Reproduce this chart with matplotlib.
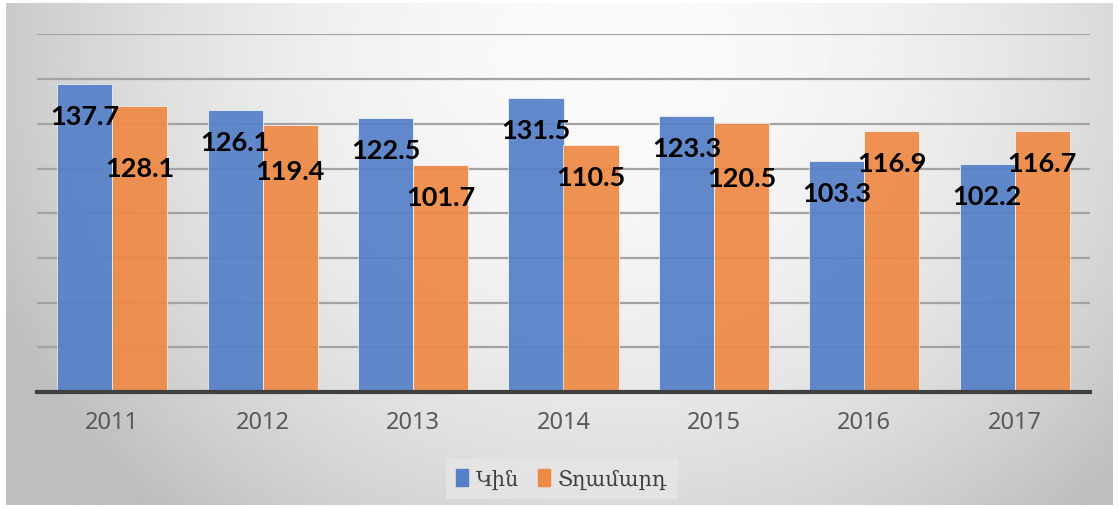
import numpy as np
import matplotlib.pyplot as plt
from matplotlib.patches import Rectangle

years = ['2011', '2012', '2013', '2014', '2015', '2016', '2017']
women = [137.7, 126.1, 122.5, 131.5, 123.3, 103.3, 102.2]
men = [128.1, 119.4, 101.7, 110.5, 120.5, 116.9, 116.7]
series_names = ['Կին', 'Տղամարդ']

blue = '#5580C8'
orange = '#EE8A46'

W, H = 1119, 510
fig = plt.figure(figsize=(W / 100, H / 100), dpi=100)
fig.patch.set_facecolor('white')

# gradient panel behind the chart
bg = fig.add_axes([6 / W, 1 - 506 / H, 1107 / W, 502 / H])
gx, gy = np.meshgrid(np.linspace(0, 1, 400), np.linspace(0, 1, 200))
d2 = ((gx - 0.55) / 0.55) ** 2 + ((gy - 0.1) / 1.1) ** 2
shade = np.clip(250 - 48 * d2, 190, 250) / 255
bg.imshow(shade, cmap='gray', vmin=0, vmax=1, aspect='auto', extent=[0, 1, 1, 0])
bg.axis('off')

ax = fig.add_axes([37 / W, 117 / H, 1053 / W, 357.6 / H])
ax.set_facecolor('none')

x = np.arange(len(years))
w = 0.366
ax.bar(x - w / 2, women, w, color=blue, alpha=0.93, edgecolor='white', linewidth=0.5, zorder=3)
ax.bar(x + w / 2, men, w, color=orange, alpha=0.93, edgecolor='white', linewidth=0.5, zorder=3)

ax.set_xlim(-0.5, len(years) - 0.5)
ax.set_ylim(0, 160)
ax.set_yticks(np.arange(20, 161, 20))
ax.yaxis.grid(True, color='#a3a3a3', linewidth=1.6, zorder=0)
ax.tick_params(axis='y', left=False, labelleft=False)
ax.set_xticks(x)
ax.set_xticklabels(years, fontsize=17, color='#595959', family='Noto Sans')
ax.tick_params(axis='x', length=0, pad=13)
for s in ['top', 'right', 'left']:
    ax.spines[s].set_visible(False)
ax.spines['bottom'].set_color('#404040')
ax.spines['bottom'].set_linewidth(3)
ax.spines['bottom'].set_zorder(4)

# data labels sit inside the bar end; a few orange ones were pushed lower
extra = {0: -22, 1: -10, 4: -17}
lab = dict(ha='center', va='center', fontsize=19.5, fontweight='bold',
           family='Lato', color='black', zorder=5)
for i, v in enumerate(women):
    ax.annotate(f'{v:.1f}', (x[i] - w / 2, v), xytext=(0, -23),
                textcoords='offset points', **lab)
for i, v in enumerate(men):
    ax.annotate(f'{v:.1f}', (x[i] + w / 2, v), xytext=(0, -23 + extra.get(i, 0)),
                textcoords='offset points', **lab)

handles = [Rectangle((0, 0), 1, 1, color=blue), Rectangle((0, 0), 1, 1, color=orange)]
leg = fig.legend(handles, series_names, loc='center', bbox_to_anchor=(562 / W, 1 - 480 / H),
                 ncol=2, frameon=True, fancybox=False, handlelength=0.55, handleheight=0.9,
                 handletextpad=0.4, columnspacing=0.9, borderpad=0.5,
                 prop={'family': ['DejaVu Serif', 'DejaVu Sans'], 'size': 15})
leg.get_frame().set_facecolor('#e6e6e6')
leg.get_frame().set_edgecolor('none')
for t in leg.get_texts():
    t.set_color('#404040')

fig.savefig('out.png', dpi=100)
